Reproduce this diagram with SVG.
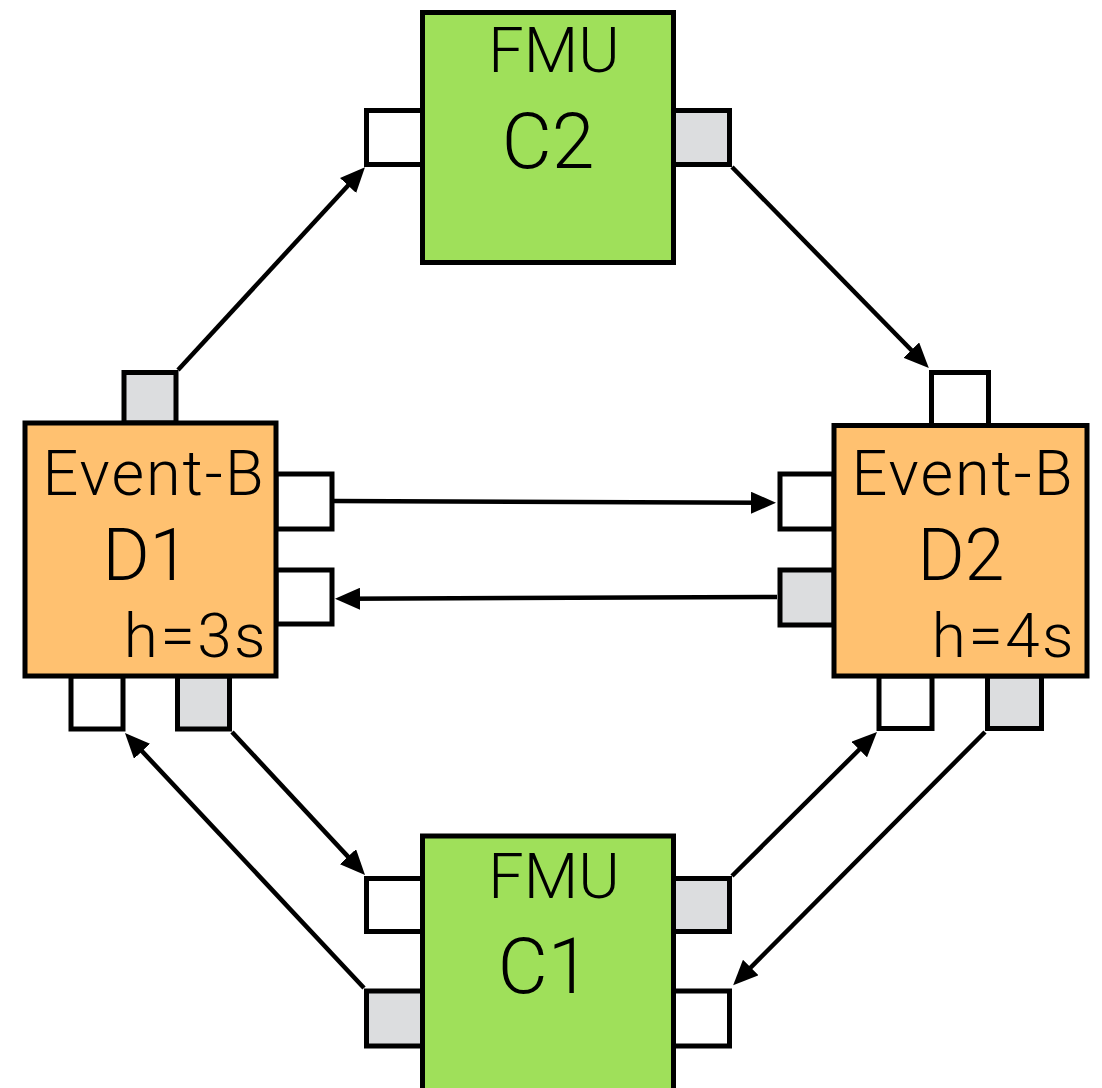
<svg xmlns="http://www.w3.org/2000/svg" width="1102" height="1088" viewBox="0 0 1102 1088">
<defs>
<style>
.box{stroke:#000;stroke-width:5}
.fmu{fill:#9fe05a}
.evb{fill:#ffc170}
.pin{fill:#fff;stroke:#000;stroke-width:5}
.pout{fill:#dcdddf;stroke:#000;stroke-width:5}
.lbl{font-family:Roboto,"Liberation Sans",sans-serif;font-weight:300;fill:#000}
.c{text-anchor:middle}
.e{text-anchor:end}
.ev{font-size:63px;letter-spacing:2px}
.hs{font-size:62px;letter-spacing:2.5px}
.conn line{stroke:#000;stroke-width:4.5;fill:none;marker-end:url(#arr)}
</style>
<marker id="arr" viewBox="0 0 25 22" markerUnits="userSpaceOnUse" markerWidth="25" markerHeight="22" refX="15" refY="11" orient="auto">
<path d="M0,0 L25,11 L0,22 Z" fill="#000"/>
</marker>
</defs>
<rect width="1102" height="1088" fill="#fff"/>
<g id="C2">
<rect class="pin" x="366.5" y="110.5" width="56" height="54"/>
<rect class="pout" x="673.5" y="110.5" width="56" height="54"/>
<rect class="box fmu" x="422.5" y="12.5" width="251" height="250"/>
<text class="lbl c" x="554" y="72" font-size="63">FMU</text>
<text class="lbl c" x="548" y="168" font-size="77">C2</text>
</g>
<g id="D1">
<rect class="pout" x="124" y="372.5" width="52" height="50.5"/>
<rect class="pin" x="276" y="474" width="56" height="55"/>
<rect class="pin" x="276" y="570" width="56" height="54"/>
<rect class="pin" x="71" y="676" width="52" height="53"/>
<rect class="pout" x="177.5" y="676" width="52" height="53"/>
<rect class="box evb" x="25" y="423" width="251" height="253"/>
<text class="lbl c ev" x="154" y="495">Event-B</text>
<text class="lbl c" x="146" y="580" font-size="72">D1</text>
<text class="lbl e hs" x="268" y="657">h=3s</text>
</g>
<g id="D2">
<rect class="pin" x="931.5" y="372.5" width="57" height="53"/>
<rect class="pin" x="780" y="474" width="54" height="55"/>
<rect class="pout" x="780" y="570" width="54" height="55"/>
<rect class="pin" x="879" y="676" width="53" height="52.5"/>
<rect class="pout" x="987.5" y="676" width="54" height="52.5"/>
<rect class="box evb" x="834" y="425.5" width="253" height="250.5"/>
<text class="lbl c ev" x="963" y="495">Event-B</text>
<text class="lbl c" x="961" y="580" font-size="72">D2</text>
<text class="lbl e hs" x="1076" y="657">h=4s</text>
</g>
<g id="C1">
<rect class="pin" x="366.5" y="878.5" width="56" height="53"/>
<rect class="pout" x="366.5" y="991" width="56" height="55"/>
<rect class="pout" x="673.5" y="878.5" width="56" height="53"/>
<rect class="pin" x="673.5" y="991" width="56" height="55"/>
<rect class="box fmu" x="422.5" y="836" width="251" height="260"/>
<text class="lbl c" x="554" y="898" font-size="63">FMU</text>
<text class="lbl c" x="544" y="993" font-size="77">C1</text>
</g>
<g id="connectors" class="conn">
<line x1="178" y1="370" x2="358.2" y2="174.5"/>
<line x1="732" y1="167" x2="921.8" y2="360.8"/>
<line x1="334" y1="501" x2="766" y2="502.8"/>
<line x1="777" y1="597" x2="345" y2="598.8"/>
<line x1="232" y1="732" x2="358.2" y2="867.6"/>
<line x1="364" y1="988" x2="131.8" y2="740.3"/>
<line x1="732" y1="876" x2="869.9" y2="739"/>
<line x1="985" y1="732" x2="740.2" y2="978.1"/>
</g>
</svg>
